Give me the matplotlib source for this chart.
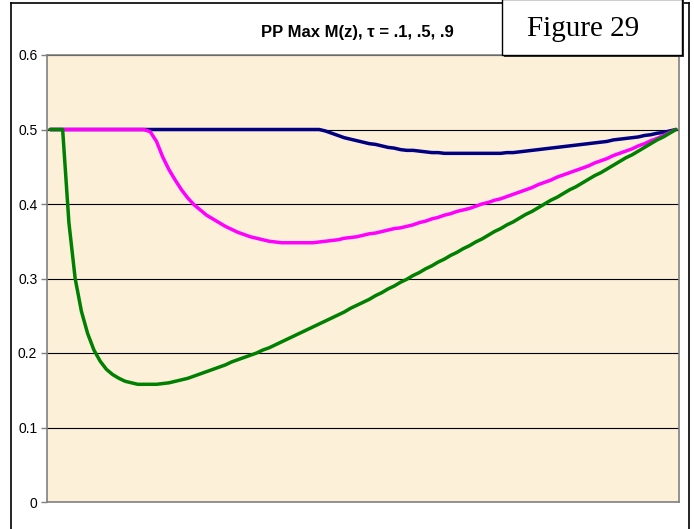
import numpy as np
import matplotlib
matplotlib.use("Agg")
import matplotlib.pyplot as plt
from matplotlib.lines import Line2D
from matplotlib.patches import Rectangle

title = "PP Max M(z), \u03c4 = .1, .5, .9"
fig_label = "Figure 29"
y_ticks = [0, 0.1, 0.2, 0.3, 0.4, 0.5, 0.6]
y_ticklabels = ["0", "0.1", "0.2", "0.3", "0.4", "0.5", "0.6"]

# tau = .9 (navy)
tau_90 = [0.5] * 44 + [
    0.498, 0.495, 0.492, 0.489, 0.487, 0.485, 0.483, 0.481, 0.480, 0.478,
    0.476, 0.475, 0.473, 0.472, 0.472, 0.471, 0.470, 0.469, 0.469, 0.468,
    0.468, 0.468, 0.468, 0.468, 0.468, 0.468, 0.468, 0.468, 0.468, 0.469,
    0.469, 0.470, 0.471, 0.472, 0.473, 0.474, 0.475, 0.476, 0.477, 0.478,
    0.479, 0.480, 0.481, 0.482, 0.483, 0.484, 0.486, 0.487, 0.488, 0.489,
    0.490, 0.492, 0.493, 0.495, 0.496, 0.498, 0.500]

# tau = .5 (magenta)
tau_50 = [0.5] * 16 + [
    0.497, 0.484, 0.463, 0.446, 0.432, 0.419, 0.408, 0.399, 0.392, 0.385,
    0.380, 0.375, 0.370, 0.366, 0.362, 0.359, 0.356, 0.354, 0.352, 0.350,
    0.349, 0.348, 0.348, 0.348, 0.348, 0.348, 0.348, 0.349, 0.350, 0.351,
    0.352, 0.354, 0.355, 0.356, 0.358, 0.360, 0.361, 0.363, 0.365, 0.367,
    0.368, 0.370, 0.372, 0.375, 0.377, 0.380, 0.382, 0.385, 0.387, 0.390,
    0.392, 0.394, 0.397, 0.400, 0.402, 0.405, 0.407, 0.410, 0.413, 0.416,
    0.419, 0.422, 0.426, 0.429, 0.432, 0.436, 0.439, 0.442, 0.445, 0.448,
    0.451, 0.455, 0.458, 0.461, 0.465, 0.468, 0.471, 0.474, 0.478, 0.481,
    0.485, 0.488, 0.492, 0.496, 0.500]

# tau = .1 (green)
tau_10 = [
    0.500, 0.500, 0.500, 0.375, 0.300, 0.256, 0.226, 0.204, 0.189, 0.178,
    0.171, 0.166, 0.162, 0.160, 0.158, 0.158, 0.158, 0.158, 0.159, 0.160,
    0.162, 0.164, 0.166, 0.169, 0.172, 0.175, 0.178, 0.181, 0.184, 0.188,
    0.191, 0.194, 0.197, 0.200, 0.204, 0.207, 0.211, 0.215, 0.219, 0.223,
    0.227, 0.231, 0.235, 0.239, 0.243, 0.247, 0.251, 0.255, 0.260, 0.264,
    0.268, 0.272, 0.277, 0.281, 0.286, 0.290, 0.295, 0.299, 0.304, 0.308,
    0.313, 0.317, 0.322, 0.326, 0.331, 0.335, 0.340, 0.344, 0.349, 0.353,
    0.358, 0.363, 0.367, 0.372, 0.376, 0.381, 0.386, 0.390, 0.395, 0.400,
    0.405, 0.409, 0.414, 0.419, 0.423, 0.428, 0.433, 0.438, 0.442, 0.447,
    0.452, 0.457, 0.462, 0.466, 0.471, 0.476, 0.481, 0.486, 0.490, 0.495,
    0.500]

W, H = 694, 529
fig = plt.figure(figsize=(W / 100, H / 100), dpi=100)
fig.patch.set_facecolor("white")

L, R, T, B = 47, 679, 55, 502
ax = fig.add_axes([L / W, 1 - B / H, (R - L) / W, (B - T) / H])
ax.set_facecolor("#FCF0D9")

x = np.arange(len(tau_10))
ax.plot(x, tau_90, color="#000080", lw=2.5, zorder=3, solid_capstyle="round")
ax.plot(x, tau_50, color="#FF00FF", lw=2.5, zorder=4, solid_capstyle="round")
ax.plot(x, tau_10, color="#008000", lw=2.5, zorder=5, solid_capstyle="round")

ax.set_xlim(-0.5, len(tau_10) - 0.5)
ax.set_ylim(0, 0.6)
ax.set_yticks(y_ticks)
ax.set_yticklabels(y_ticklabels, fontsize=10, family="Liberation Sans")
ax.set_xticks([])
ax.yaxis.grid(True, color="black", lw=0.8)
ax.set_axisbelow(True)
for s in ax.spines.values():
    s.set_color("#808080")
    s.set_linewidth(1.2)
ax.tick_params(axis="y", direction="out", length=4, width=1, color="#808080", pad=3)

# outer chart frame
fig.add_artist(Line2D([11 / W, 11 / W], [0, 1 - 3 / H], color="black", lw=1.2))
fig.add_artist(Line2D([11 / W, 689 / W], [1 - 3 / H, 1 - 3 / H], color="black", lw=1.2))
fig.add_artist(Line2D([689 / W, 689 / W], [0, 1 - 3 / H], color="black", lw=1.2))

fig.text(357 / W, 1 - 33 / H, title, ha="center", va="center",
         fontsize=12, fontweight="bold", family="Liberation Sans")

# Figure label box with slight shadow
fig.add_artist(Rectangle((504 / W, 1 - 57 / H), 180 / W, 57 / H,
                         facecolor="#333333", edgecolor="none", zorder=9))
fig.add_artist(Rectangle((502 / W, 1 - 55 / H), 180 / W, 56 / H,
                         facecolor="white", edgecolor="black", lw=1.0, zorder=10))
fig.text(583 / W, 1 - 29 / H, fig_label, ha="center", va="center",
         fontsize=21, family="Liberation Serif", zorder=11)

fig.savefig("out.png", dpi=100)
